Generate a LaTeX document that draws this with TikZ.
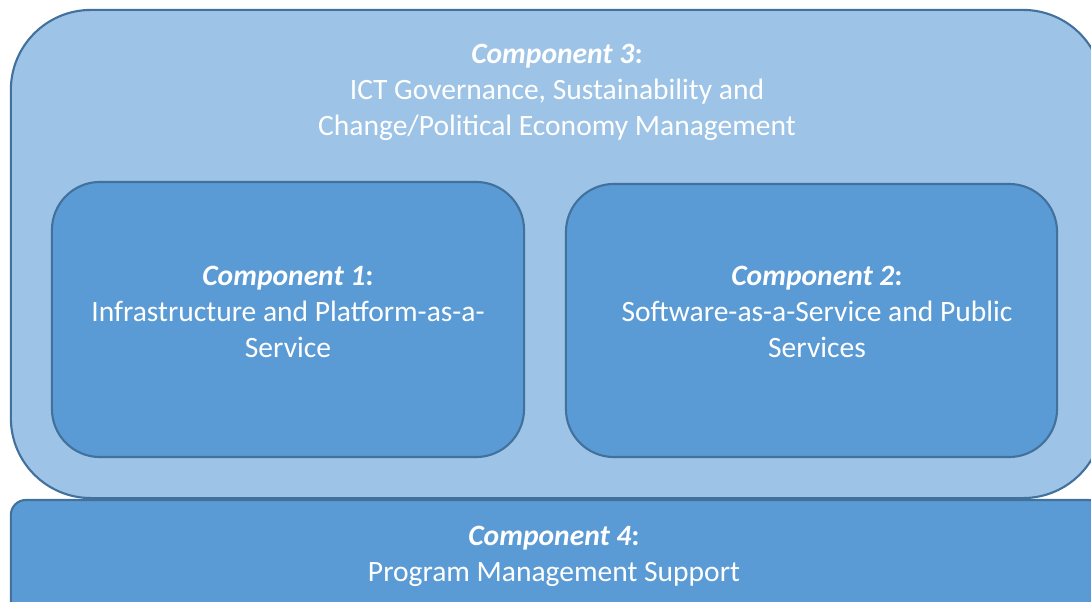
\documentclass[tikz,border=0pt]{standalone}
\usepackage{fontspec}
\setmainfont{Carlito}
\usepackage{tikz}
\usetikzlibrary{positioning}
\definecolor{outerblue}{HTML}{9DC3E6}
\definecolor{innerblue}{HTML}{5B9BD5}
\definecolor{edgeblue}{HTML}{41719C}
\tikzset{box/.style={draw=edgeblue, line width=1.5pt, fill=innerblue,
    inner sep=0pt}}
\tikzset{comptext/.style={text=white, align=center, inner sep=0pt,
    font=\fontsize{21}{25.6}\selectfont}}
\newcommand{\compname}[1]{\textbf{\textit{Component #1}}\textbf{:}}

\begin{document}
\begin{tikzpicture}[x=.025cm,y=-.025cm]
    \useasboundingbox (0,0) rectangle (1091,602);
    \node[box, fill=outerblue, rounded corners=2cm, minimum width=27.3cm,
      minimum height=12.2cm] (comp3) at (557,254) {};
    \node[box, rounded corners=.375cm, minimum width=27.3cm,
      minimum height=3.25cm] (comp4) at (557,565) {};
    \node[box, rounded corners=1.2cm, minimum width=11.8cm,
      minimum height=6.875cm] (comp1) at (288,319.5) {};
    \node[box, rounded corners=1.2cm, minimum width=12.275cm,
      minimum height=6.825cm] (comp2) at (811.5,320.5) {};
    \node[comptext] (text3) at (557,92) {\compname{3}\\ICT Governance,
      Sustainability and\\Change/Political Economy Management};
    \node[comptext] (text1) at (288,312) {\compname{1}\\Infrastructure
      and Platform-as-a-\\Service};
    \node[comptext] (text2) at (817,312) {\compname{2}\\Software-as-a-Service
      and Public\\Services};
    \node[comptext] (text4) at (554,556) {\compname{4}\\Program
      Management Support};
  \end{tikzpicture}
\end{document}
